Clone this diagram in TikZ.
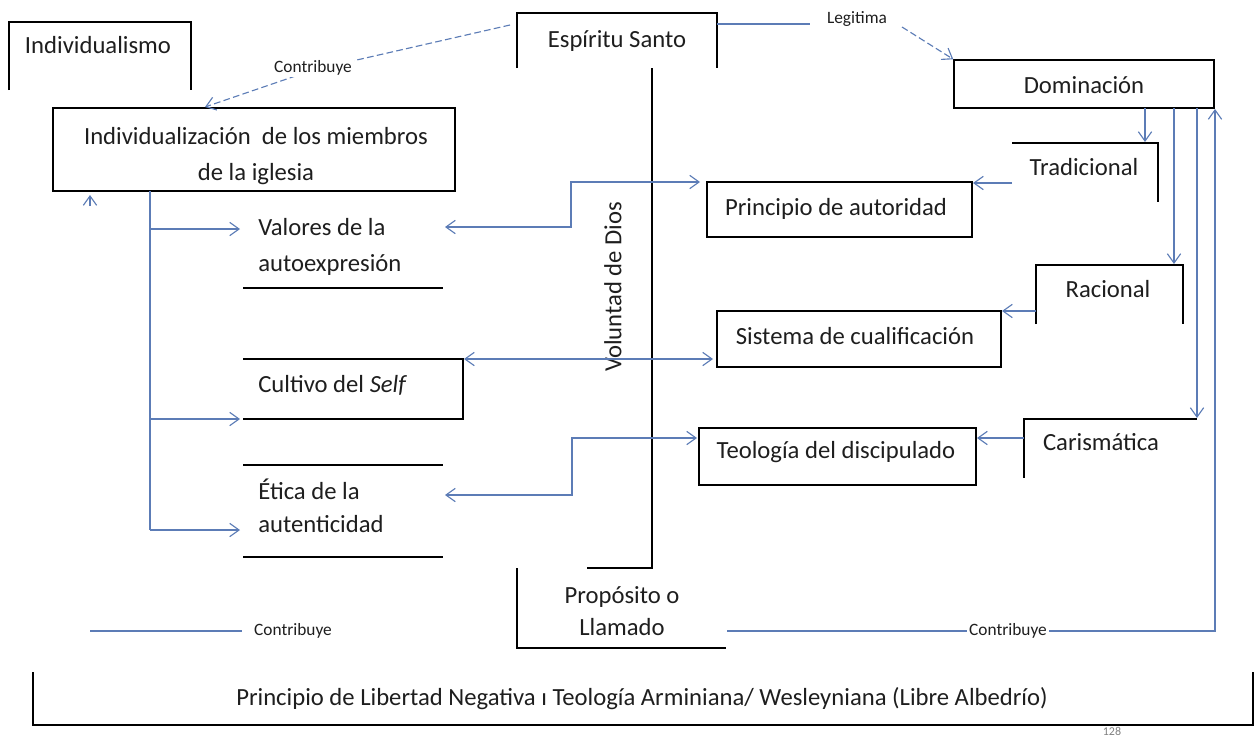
\documentclass[tikz,border=0pt]{standalone}
\usepackage{fontspec}
\setmainfont{Carlito}
\usetikzlibrary{arrows.meta,fit}
\definecolor{linkblue}{RGB}{92,124,182}
\definecolor{inkc}{RGB}{30,30,30}
\begin{document}
\begin{tikzpicture}[x=0.75pt,y=-0.75pt,
  boxline/.style={draw=black,line width=1.1pt},
  conn/.style={draw=linkblue,line width=0.85pt},
  tipend/.style={-{Straight Barb[length=7pt,width=10pt]}},
  arr/.style={conn,tipend},
  darr/.style={conn,{Straight Barb[length=7pt,width=10pt]}-{Straight Barb[length=7pt,width=10pt]}},
  dashline/.style={dash pattern=on 5pt off 2.5pt},
  txt/.style={inner sep=0pt,text=inkc,font=\fontsize{18.5}{27}\selectfont,align=center},
  rottxt/.style={txt,text height=0.72em,text depth=0.2em},
  onetxt/.style={rottxt,yshift=-3.5pt},
  lbl/.style={inner sep=1.5pt,text=inkc,font=\fontsize{13}{15}\selectfont},
  fitbox/.style={boxline,inner sep=0pt}
]
\useasboundingbox (0,0) rectangle (1256,736);

% ---- open boxes and lines
\draw[boxline] (9,90) -- (9,22) -- (191,22) -- (191,90);
\draw[boxline] (517,68) -- (517,13) -- (717,13) -- (717,68);
\draw[boxline] (652,68) -- (652,568) -- (587,568);
\draw[boxline] (517,568) -- (517,648) -- (726,648);
\draw[boxline] (1012,143) -- (1158,143) -- (1158,202);
\draw[boxline] (243,288) -- (443,288);
\draw[boxline] (243,359) -- (463,359) -- (463,419) -- (243,419);
\draw[boxline] (243,465) -- (443,465) (243,557) -- (443,557);
\draw[boxline] (1036,324) -- (1036,265) -- (1183,265) -- (1183,324);
\draw[boxline] (1197,419) -- (1024,419) -- (1024,478);
\draw[boxline] (33,672) -- (33,725) -- (1253,725) -- (1253,672);

% ---- closed boxes
\node[fitbox, fit={(53,108) (455,191)}] (indiv) {};
\node[fitbox, fit={(954,60) (1214,108)}] (dom) {};
\node[fitbox, fit={(707,182) (972,237)}] (prin) {};
\node[fitbox, fit={(717,311) (1001,367)}] (sis) {};
\node[fitbox, fit={(699,428) (976,485)}] (teo) {};

% ---- texts
\node[onetxt] (indivismo) at (98,45) {Individualismo};
\node[txt] (indivtxt) at (256,156) {Individualización\ \ de los miembros\\de la iglesia};
\node[onetxt] (esp) at (617,39) {Espíritu Santo};
\node[onetxt] (domtxt) at (1084,85) {Dominación};
\node[onetxt] (trad) at (1084,167) {Tradicional};
\node[onetxt] (printxt) at (836,207) {Principio de autoridad};
\node[txt,anchor=west,align=left] (val) at (258,247) {Valores de la\\autoexpresión};
\node[onetxt,anchor=west] (cult) at (258,384) {Cultivo del \textit{Self}};
\node[txt,anchor=west,align=left,font=\fontsize{18.5}{24.5}\selectfont] (etica) at (258,506) {Ética de la\\autenticidad};
\node[onetxt] (sistxt) at (855,336) {Sistema de cualificación};
\node[onetxt] (rac) at (1108,289) {Racional};
\node[onetxt] (teotxt) at (836,450) {Teología del discipulado};
\node[onetxt] (caris) at (1101,442) {Carismática};
\node[txt,font=\fontsize{18.5}{24}\selectfont] (prop) at (622,611) {Propósito o\\Llamado};
\node[rottxt,rotate=90] (volun) at (618,287) {Voluntad de Dios};
\node[onetxt] (libertad) at (642,697) {Principio de Libertad Negativa ı Teología Arminiana/ Wesleyniana (Libre Albedrío)};

% ---- connectors
\draw[conn,dashline,tipend] (510,25) -- (313,70) -- (205,107);
\node[lbl,fill=white] (contrib1) at (313,68) {Contribuye};

\draw[conn] (717,24) -- (810,24);
\node[lbl] (legit) at (857,19) {Legitima};
\draw[conn,dashline,tipend] (902,27) -- (dom.north west);

\draw[arr] (1145,108) -- (1145,142);
\draw[arr] (1174,108) -- (1174,264);
\draw[arr] (1197,108) -- (1197,418);

\draw[arr] (727,631) -- (1215,631) -- (1215,109);
\node[lbl,fill=white] (contrib3) at (1008,631) {Contribuye};

\draw[conn] (90,631) -- (242,631);
\node[lbl] (contrib2) at (293,631) {Contribuye};
\draw[arr] (90,206) -- (90,195);

\draw[conn] (150,191) -- (150,530);
\draw[arr] (150,229) -- (240,229);
\draw[arr] (150,419) -- (240,419);
\draw[arr] (150,530) -- (240,530);

\draw[arr] (1012,183) -- (973,183);
\draw[arr] (1036,311) -- (1002,311);
\draw[arr] (1024,438) -- (977,438);

\draw[darr] (445,227) -- (571,227) -- (571,182) -- (700,182);
\draw[darr] (464,359) -- (713,359);
\draw[darr] (697,438) -- (572,438) -- (572,495) -- (445,495);

\node[inner sep=0pt,text=gray,font=\fontsize{9}{10}\selectfont] (page) at (1112,731) {128};
\end{tikzpicture}
\end{document}
